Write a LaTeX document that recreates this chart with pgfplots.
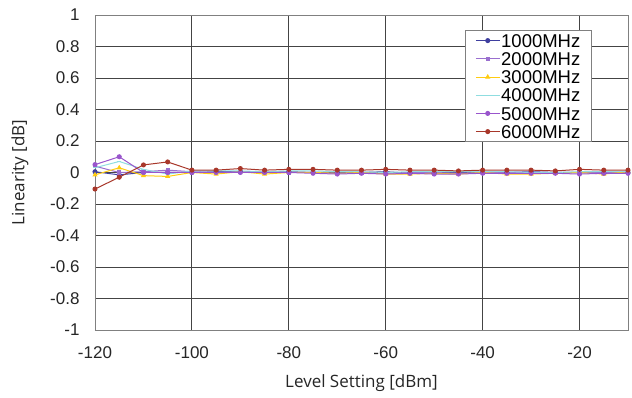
\documentclass[border=0pt]{standalone}
\usepackage{pgfplots}
\pgfplotsset{compat=1.18}
\usepackage{fontspec}
\setmainfont{Liberation Sans}
\newfontfamily\labfont{Open Sans}
\definecolor{c1}{HTML}{3F3F9F}
\definecolor{c2}{HTML}{9A6FCF}
\definecolor{c3}{HTML}{FFCC11}
\definecolor{c4}{HTML}{8FDDE0}
\definecolor{c5}{HTML}{9955CC}
\definecolor{c6}{HTML}{A8372A}
\definecolor{gridc}{HTML}{444444}
\begin{document}
\begin{tikzpicture}
\begin{axis}[
  at={(0,0)}, anchor=south west,
  scale only axis, width=533pt, height=315pt,
  xmin=-120, xmax=-10, ymin=-1, ymax=1,
  xtick={-120,-100,-80,-60,-40,-20},
  ytick={-1,-0.8,...,1.01},
  yticklabel style={/pgf/number format/fixed,/pgf/number format/precision=1},
  /pgf/number format/assume math mode=true,
  tick label style={font=\fontsize{17}{20}\selectfont, text=black!85},
  xticklabel style={yshift=-13pt},
  yticklabel style={xshift=-12pt},
  grid=major, major grid style={gridc, line width=0.9pt},
  axis line style={gray, line width=0.9pt},
  tick style={draw=none},
  xlabel={\labfont Level Setting [dBm]},
  ylabel={\labfont Linearity [dB]},
  label style={font=\fontsize{17}{20}\selectfont, text=black!85},
  xlabel style={at={(axis description cs:0.5,-0.168)}, anchor=center},
  ylabel style={at={(axis description cs:-0.141,0.5)}, anchor=center},
  legend style={at={(0.932,0.952)}, anchor=north east, draw=gray, line width=0.8pt,
     font=\fontsize{18.5}{17}\selectfont, row sep=0pt, inner xsep=10pt, inner ysep=1pt, fill=white,
     nodes={inner sep=1pt, text height=14.8pt, text depth=1.4pt}},
  legend cell align=left,
  legend image code/.code={\draw[mark repeat=2,mark phase=2] plot coordinates {(0cm,0cm)(0.42cm,0cm)(0.84cm,0cm)};},
  every axis plot/.append style={line width=1pt, mark size=2pt},
]
\addplot[c1, mark=*] coordinates {(-120,0.005)(-115,-0.015)(-110,0.0)(-105,0.0)(-100,0.0)(-95,0.005)(-90,0.005)(-85,0.0)(-80,0.005)(-75,0.0)(-70,0.0)(-65,0.0)(-60,0.005)(-55,-0.005)(-50,-0.005)(-45,0.0)(-40,0.0)(-35,0.0)(-30,0.005)(-25,0.0)(-20,0.0)(-15,-0.005)(-10,0.0)};
\addlegendentry{1000MHz}
\addplot[c2, mark=square*, mark size=1.6pt] coordinates {(-120,0.04)(-115,0.0)(-110,0.005)(-105,0.015)(-100,0.005)(-95,0.0)(-90,0.005)(-85,0.005)(-80,0.0)(-75,0.0)(-70,-0.005)(-65,0.0)(-60,-0.005)(-55,0.0)(-50,0.0)(-45,-0.005)(-40,0.0)(-35,0.0)(-30,0.0)(-25,-0.005)(-20,0.0)(-15,0.0)(-10,0.0)};
\addlegendentry{2000MHz}
\addplot[c3, mark=triangle*] coordinates {(-120,-0.015)(-115,0.03)(-110,-0.02)(-105,-0.025)(-100,0.0)(-95,-0.01)(-90,0.005)(-85,-0.01)(-80,0.0)(-75,0.0)(-70,-0.005)(-65,0.0)(-60,-0.01)(-55,-0.01)(-50,-0.005)(-45,-0.01)(-40,0.0)(-35,-0.01)(-30,-0.01)(-25,-0.005)(-20,0.0)(-15,-0.01)(-10,0.005)};
\addlegendentry{3000MHz}
\addplot[c4, mark=-] coordinates {(-120,0.03)(-115,0.07)(-110,0.02)(-105,-0.01)(-100,0.01)(-95,0.01)(-90,0.01)(-85,0.005)(-80,0.01)(-75,0.01)(-70,0.005)(-65,0.005)(-60,0.0)(-55,0.005)(-50,0.005)(-45,0.005)(-40,0.005)(-35,0.005)(-30,0.0)(-25,0.0)(-20,0.005)(-15,0.005)(-10,0.005)};
\addlegendentry{4000MHz}
\addplot[c5, mark=*] coordinates {(-120,0.05)(-115,0.10)(-110,0.0)(-105,0.0)(-100,0.0)(-95,0.0)(-90,0.0)(-85,0.0)(-80,0.0)(-75,-0.005)(-70,-0.01)(-65,-0.005)(-60,-0.01)(-55,-0.005)(-50,-0.01)(-45,-0.01)(-40,-0.005)(-35,-0.005)(-30,-0.005)(-25,-0.005)(-20,-0.01)(-15,-0.005)(-10,-0.005)};
\addlegendentry{5000MHz}
\addplot[c6, mark=*] coordinates {(-120,-0.105)(-115,-0.03)(-110,0.048)(-105,0.067)(-100,0.015)(-95,0.015)(-90,0.025)(-85,0.015)(-80,0.02)(-75,0.02)(-70,0.015)(-65,0.015)(-60,0.02)(-55,0.015)(-50,0.015)(-45,0.01)(-40,0.015)(-35,0.015)(-30,0.015)(-25,0.01)(-20,0.02)(-15,0.015)(-10,0.015)};
\addlegendentry{6000MHz}
\end{axis}
\path[use as bounding box] (-95pt,-68pt) rectangle (537pt,330pt);
\end{tikzpicture}
\end{document}
